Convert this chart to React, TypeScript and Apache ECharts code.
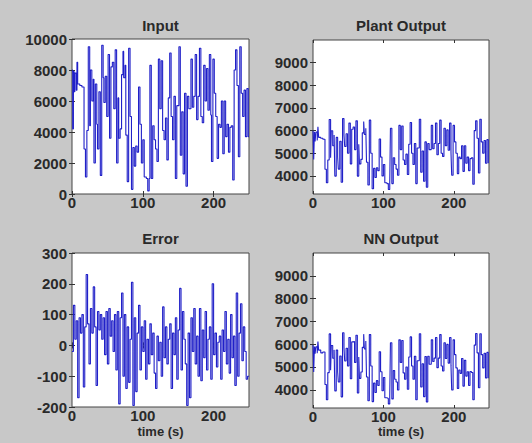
import React, { useEffect, useRef } from "react";
import * as echarts from "echarts";

// ---- data ----
const inputT = [0,1,2,3,4,6,7,8,11,14,17,19,21,23,25,26,28,30,31,33,35,36,38,40,42,44,45,47,49,51,53,55,57,59,61,63,65,66,68,70,72,73,75,76,78,80,82,84,86,88,90,92,94,96,98,100,102,105,107,109,110,112,114,116,118,120,122,124,126,128,130,132,134,136,138,140,142,144,146,148,151,153,155,157,159,161,163,165,168,170,172,174,176,178,180,182,184,186,188,190,192,194,196,197,199,201,203,205,207,209,211,213,215,217,219,221,223,225,227,229,231,233,235,237,239,241,243,245,247,249];
const inputV = [8000,4200,7900,6600,7800,6700,8500,7100,7000,6900,2900,1100,4100,9500,4400,8000,6000,7400,2000,7100,4500,2900,6600,1200,9600,7500,5900,7600,5000,9000,3600,8200,8500,5500,9300,2000,6200,3600,4200,7700,9200,7500,8300,3800,800,9400,5000,300,3000,1800,3100,2700,6900,4500,2000,3500,1100,1000,200,1000,8300,1000,4400,3500,2900,2100,8700,5500,8600,4100,3500,4900,2200,6200,9100,5000,3500,6300,1000,5700,9500,2500,5300,1300,6500,500,6300,5500,8700,5600,6300,9000,4800,6300,9400,5000,4600,8300,6000,8100,5400,9000,5100,2100,8700,6500,5000,2300,4500,4300,6000,2600,6000,3700,4500,2700,4300,4400,900,8000,9300,7000,2400,9500,6500,5000,6700,3700,6800,3700];
const plantV = [5990,4720,5950,5520,5930,5560,6170,5700,5660,5620,4290,3700,4700,6490,4800,5990,5330,5800,3990,5700,4830,4300,5530,3720,6530,5830,5300,5860,5000,6330,4530,6060,6160,5160,6430,3990,5400,4530,4730,5900,6400,5830,6100,4600,3600,6460,5000,3430,4330,3930,4360,4230,5630,4830,4000,4500,3700,3660,3400,3660,6100,3660,4800,4500,4300,4030,6230,5160,6200,4700,4500,4960,4060,5400,6360,5000,4500,5430,3660,5230,6500,4160,5100,3760,5500,3500,5430,5160,6230,5200,5430,6330,4930,5430,6460,5000,4860,6100,5330,6030,5130,6330,5030,4030,6230,5500,5000,4100,4830,4760,5330,4200,5330,4560,4830,4230,4760,4800,3630,6000,6430,5660,4130,6500,5500,5000,5560,4560,5600,4560];
const nnV = [5960,4780,5900,5580,5880,5600,6120,5740,5620,5660,4230,3560,4750,6450,4860,5940,5380,5750,3950,5740,4790,4340,5480,3690,6500,5880,5260,5820,5040,6290,4480,6100,6120,5200,6390,3860,5440,4500,4780,5860,6440,5790,6140,4560,3520,6420,5040,3480,4290,3880,4400,4190,5670,4790,3960,4540,3650,3620,3380,3700,6060,3600,4840,4460,4340,3990,6190,5200,6160,4740,4460,5000,4020,5440,6320,5040,4460,5470,3560,5270,6460,4120,5140,3700,5460,3460,5470,5120,6190,5240,5390,6290,4970,5390,6420,5040,4820,6060,5370,5990,5170,6290,5070,3990,6190,5540,4960,4060,4870,4720,5370,4160,5290,4600,4790,4190,4800,4760,3560,5960,6470,5620,4090,6460,5540,4960,5600,4520,5640,4500];
const errStep = 2;
const errV = [-20,130,20,80,-170,90,40,100,-135,60,230,70,-60,120,40,190,60,-130,110,50,100,20,90,-30,110,-60,120,30,80,-20,100,-80,110,-190,90,170,-100,100,-140,60,-120,20,205,-195,90,-150,40,130,-80,60,-20,80,-110,20,-60,70,-30,40,-90,-140,30,-50,10,-100,125,-40,60,-60,20,70,-140,40,-30,90,-110,50,185,-80,110,20,-60,-195,40,-170,90,-20,120,-60,30,-100,120,-115,50,-40,110,-80,20,60,-110,200,-30,40,-70,10,30,-110,50,-20,110,-60,20,-90,100,-40,30,-130,170,-100,40,135,-50,60,-20,-110,-100];

const titles = ["Input", "Plant Output", "Error", "NN Output"];
const xTicks = [0, 100, 200];
const yTicksInput = [0, 2000, 4000, 6000, 8000, 10000];
const yTicksOut = [4000, 5000, 6000, 7000, 8000, 9000];
const yTicksErr = [-200, -100, 0, 100, 200, 300];
const xLabel = "time (s)";

const FONT = "Liberation Sans, Arial, sans-serif";

export default function App() {
  const ref = useRef<HTMLDivElement>(null);
  useEffect(() => {
    if (!ref.current) return;
    const chart = echarts.init(ref.current, null, { renderer: "svg" });

    const grids = [
      { left: 72, top: 39, width: 177, height: 155 },
      { left: 313, top: 40, width: 176, height: 154 },
      { left: 72, top: 253, width: 177, height: 154 },
      { left: 313, top: 253, width: 176, height: 155 },
    ];
    const yRanges = [
      [0, 10000, yTicksInput],
      [3200, 10000, yTicksOut],
      [-200, 300, yTicksErr],
      [3200, 10000, yTicksOut],
    ] as [number, number, number[]][];

    const stepData = (ts: number[], vs: number[]) => {
      const d = ts.map((t, i) => [t, vs[i]]);
      d.push([250, vs[vs.length - 1]]);
      return d;
    };
    const errData = errV.map((v, i) => [i * errStep, v]);
    errData.push([250, errV[errV.length - 1]]);
    const datas = [
      stepData(inputT, inputV),
      stepData(inputT, plantV),
      errData,
      stepData(inputT, nnV),
    ];

    const tickStyle = { color: "#333", width: 1 };
    const labelStyle = {
      fontSize: 15,
      lineHeight: 14,
      fontWeight: "bold" as const,
      color: "#2a2a2a",
      fontFamily: FONT,
      formatter: (v: number) => String(v),
    };

    const xAxes: any[] = [];
    const yAxes: any[] = [];
    grids.forEach((_, i) => {
      xAxes.push({
        type: "value", gridIndex: i, min: 0, max: 250, position: "bottom",
        axisLine: { show: false }, splitLine: { show: false },
        axisTick: { show: true, inside: true, length: 3, customValues: xTicks, lineStyle: tickStyle },
        axisLabel: { customValues: xTicks, margin: 1, ...labelStyle },
      });
      yAxes.push({
        type: "value", gridIndex: i, min: yRanges[i][0], max: yRanges[i][1], position: "left",
        axisLine: { show: false }, splitLine: { show: false },
        axisTick: { show: true, inside: true, length: 3, customValues: yRanges[i][2], lineStyle: tickStyle },
        axisLabel: { customValues: yRanges[i][2], margin: 5, ...labelStyle },
      });
    });
    grids.forEach((_, i) => {
      xAxes.push({
        type: "value", gridIndex: i, min: 0, max: 250, position: "top",
        axisLine: { show: false }, splitLine: { show: false },
        axisTick: { show: true, inside: true, length: 3, customValues: xTicks, lineStyle: tickStyle },
        axisLabel: { show: false },
      });
      yAxes.push({
        type: "value", gridIndex: i, min: yRanges[i][0], max: yRanges[i][1], position: "right",
        axisLine: { show: false }, splitLine: { show: false },
        axisTick: { show: true, inside: true, length: 3, customValues: yRanges[i][2], lineStyle: tickStyle },
        axisLabel: { show: false },
      });
    });

    const titlePos = [
      [160.5, 25], [401, 25], [160.5, 238], [401, 238],
    ];
    const graphic: any[] = titles.map((t, i) => ({
      type: "text",
      x: titlePos[i][0],
      y: titlePos[i][1],
      style: {
        text: t, fill: "#2a2a2a", font: `bold 15px ${FONT}`,
        textAlign: "center", textVerticalAlign: "middle",
      },
    }));
    [[160.5, 431], [401, 431]].forEach(([x, y]) => {
      graphic.push({
        type: "text", x, y,
        style: {
          text: xLabel, fill: "#2a2a2a", font: `bold 13px ${FONT}`,
          textAlign: "center", textVerticalAlign: "middle",
        },
      });
    });

    chart.setOption({
      animation: false,
      backgroundColor: "#c8c8c8",
      grid: grids.map((g) => ({
        ...g, show: true, backgroundColor: "#ffffff", borderColor: "#444", borderWidth: 1,
      })),
      xAxis: xAxes,
      yAxis: yAxes,
      graphic,
      series: datas.map((d, i) => ({
        type: "line",
        xAxisIndex: i,
        yAxisIndex: i,
        step: "end",
        symbol: "none",
        data: d,
        lineStyle: { color: "#2020c8", width: 1.1 },
      })),
    });
    return () => chart.dispose();
  }, []);
  return (
    <div
      ref={ref}
      style={{ position: "absolute", left: 0, top: 0, width: 532, height: 443 }}
    />
  );
}
